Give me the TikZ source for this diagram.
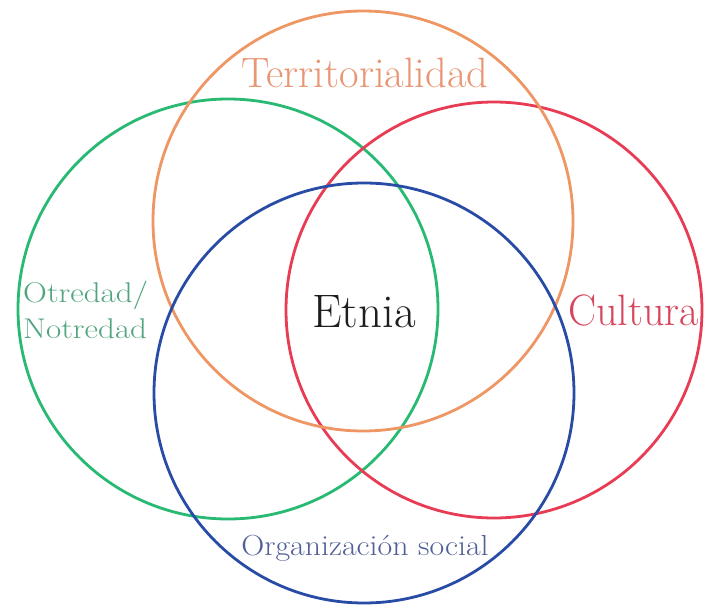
\documentclass[tikz,border=0pt]{standalone}
\usepackage{graphicx}
\definecolor{corange}{RGB}{238,150,100}
\definecolor{cgreen}{RGB}{40,185,115}
\definecolor{cred}{RGB}{232,60,85}
\definecolor{cblue}{RGB}{40,75,165}
\definecolor{torange}{RGB}{232,150,115}
\definecolor{tgreen}{RGB}{80,165,125}
\definecolor{tred}{RGB}{215,70,92}
\definecolor{tblue}{RGB}{80,95,150}
\definecolor{tdark}{RGB}{30,30,30}
\begin{document}
\begin{tikzpicture}[x=1pt,y=-1pt,
  ring/.style={line width=2.8pt},
  lbl/.style={inner sep=0pt,anchor=base}]
\useasboundingbox[fill=white] (0,0) rectangle (705,605);
% circles
\draw[ring,cgreen] (228,309) circle (210pt);
\draw[ring,cred] (494,310) circle (208pt);
\draw[ring,corange] (363,221) circle (210pt);
\draw[ring,cblue] (364,393) circle (210pt);
% labels
\node[lbl,text=torange,font=\fontsize{42.5}{46}\selectfont] (terr) at (365,87) {\scalebox{1.0}[1]{Territorialidad}};
\node[lbl,anchor=base west,text=tgreen,font=\fontsize{28.5}{32}\selectfont] (otr) at (23,302) {\scalebox{1.16}[1]{Otredad/}};
\node[lbl,anchor=base west,text=tgreen,font=\fontsize{28.5}{32}\selectfont] (notr) at (23,338) {\scalebox{1.16}[1]{Notredad}};
\node[lbl,text=tred,font=\fontsize{44}{48}\selectfont] (cult) at (633.5,325) {\scalebox{0.955}[1]{Cultura}};
\node[lbl,text=tdark,font=\fontsize{47}{50}\selectfont] (etnia) at (364,327) {\scalebox{1.0}[1]{Etnia}};
\node[lbl,text=tblue,font=\fontsize{29}{32}\selectfont] (org) at (365,555) {\scalebox{1.1}[1]{Organización social}};
\end{tikzpicture}
\end{document}
